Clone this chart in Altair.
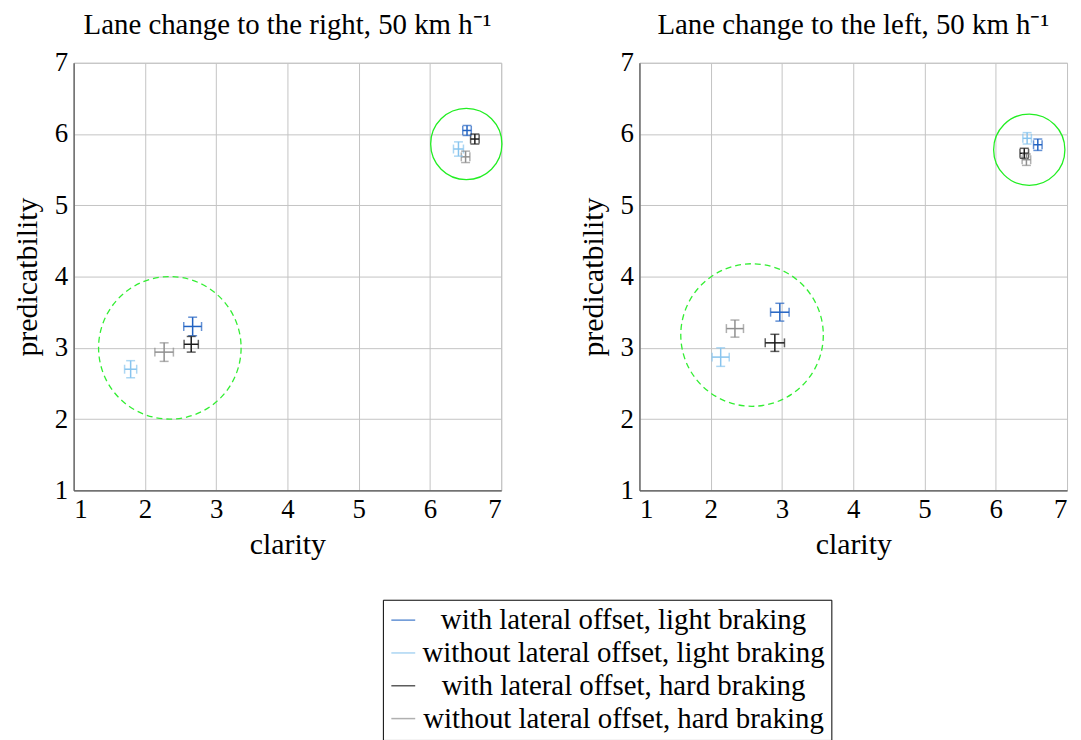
import altair as alt
import pandas as pd

FONT = "Liberation Serif"

series_names = [
    "with lateral offset, light braking",
    "without lateral offset, light braking",
    "with lateral offset, hard braking",
    "without lateral offset, hard braking",
]
series_colors = ["#2263c2", "#88c4ee", "#1a1a1a", "#8f8f8f"]

panel_titles = ["Lane change to the right, 50 km h⁻¹", "Lane change to the left, 50 km h⁻¹"]

# each panel: two points per series (lower cluster, upper cluster)
pt_series = [0, 0, 1, 1, 2, 2, 3, 3]

right_x = [2.67, 6.52, 1.80, 6.40, 2.65, 6.63, 2.27, 6.50]
right_y = [3.30, 6.05, 2.70, 5.79, 3.05, 5.93, 2.94, 5.68]
right_xerr = [0.125, 0.06, 0.085, 0.07, 0.10, 0.06, 0.13, 0.06]
right_yerr = [0.13, 0.07, 0.12, 0.10, 0.11, 0.07, 0.13, 0.08]

left_x = [2.97, 6.59, 2.14, 6.44, 2.90, 6.40, 2.34, 6.43]
left_y = [3.50, 5.85, 2.87, 5.94, 3.07, 5.73, 3.27, 5.64]
left_xerr = [0.13, 0.06, 0.12, 0.06, 0.135, 0.06, 0.12, 0.06]
left_yerr = [0.125, 0.08, 0.13, 0.08, 0.12, 0.07, 0.12, 0.08]

# circles: (x, y, radius) dashed = lower cluster, solid = upper cluster
right_circle_dashed = [2.35, 3.00, 1.0]
right_circle_solid = [6.51, 5.86, 0.5]
left_circle_dashed = [2.58, 3.18, 1.0]
left_circle_solid = [6.47, 5.78, 0.5]

axis_ticks = [1, 2, 3, 4, 5, 6, 7]

PLOT = 430
PPU = PLOT / (axis_ticks[-1] - axis_ticks[0])


def make_panel(title, xs, ys, xe, ye, c_dash, c_solid):
    df = pd.DataFrame({
        "series": [series_names[i] for i in pt_series],
        "x": xs, "y": ys,
        "xlo": [a - b for a, b in zip(xs, xe)],
        "xhi": [a + b for a, b in zip(xs, xe)],
        "ylo": [a - b for a, b in zip(ys, ye)],
        "yhi": [a + b for a, b in zip(ys, ye)],
    })
    xscale = alt.Scale(domain=[axis_ticks[0], axis_ticks[-1]], nice=False, zero=False)
    yscale = alt.Scale(domain=[axis_ticks[0], axis_ticks[-1]], nice=False, zero=False)
    xaxis = alt.Axis(values=axis_ticks, title="clarity", format="d")
    yaxis = alt.Axis(values=axis_ticks, title="predicatbility", format="d")
    color = alt.Color("series:N", scale=alt.Scale(domain=series_names, range=series_colors),
                      legend=alt.Legend(orient="none", legendX=311, legendY=540, title=None))

    base = alt.Chart(df)
    xbar = base.mark_errorbar(ticks=alt.MarkConfig(size=9), thickness=1.5).encode(
        x=alt.X("xlo:Q", scale=xscale, axis=xaxis),
        x2="xhi:Q",
        y=alt.Y("y:Q", scale=yscale, axis=yaxis),
        color=color,
    )
    ybar = base.mark_errorbar(ticks=alt.MarkConfig(size=9), thickness=1.5).encode(
        y=alt.Y("ylo:Q", scale=yscale, axis=yaxis),
        y2="yhi:Q",
        x=alt.X("x:Q", scale=xscale, axis=xaxis),
        color=color,
    )
    cd = pd.DataFrame({"x": [c_dash[0]], "y": [c_dash[1]], "r": [c_dash[2]]})
    cs = pd.DataFrame({"x": [c_solid[0]], "y": [c_solid[1]], "r": [c_solid[2]]})
    circ_d = alt.Chart(cd).mark_point(shape="circle", filled=False, color="#33ee33",
                                      strokeWidth=1.3, strokeDash=[6, 4], opacity=1).encode(
        x=alt.X("x:Q", scale=xscale, axis=xaxis),
        y=alt.Y("y:Q", scale=yscale, axis=yaxis),
        size=alt.value((2 * c_dash[2] * PPU) ** 2),
    )
    circ_s = alt.Chart(cs).mark_point(shape="circle", filled=False, color="#22ee22",
                                      strokeWidth=1.3, opacity=1).encode(
        x=alt.X("x:Q", scale=xscale, axis=xaxis),
        y=alt.Y("y:Q", scale=yscale, axis=yaxis),
        size=alt.value((2 * c_solid[2] * PPU) ** 2),
    )
    return alt.layer(circ_d, circ_s, xbar, ybar).properties(
        width=PLOT, height=PLOT, title=title)


p1 = make_panel(panel_titles[0], right_x, right_y, right_xerr, right_yerr,
                right_circle_dashed, right_circle_solid)
p2 = make_panel(panel_titles[1], left_x, left_y, left_xerr, left_yerr,
                left_circle_dashed, left_circle_solid)

chart = alt.hconcat(p1, p2, spacing=73).properties(
    padding={"left": 4, "top": 0, "right": 5, "bottom": 5}
).configure_view(
    stroke="#c4c4c4", strokeWidth=1
).configure_axis(
    labelFont=FONT, labelFontSize=27, labelColor="black",
    titleFont=FONT, titleFontSize=30, titleFontWeight="normal", titleColor="black",
    grid=True, gridColor="#c4c4c4", gridWidth=1,
    domainColor="#555555", domainWidth=1.2, ticks=False,
    labelPadding=6,
).configure_axisX(
    titlePadding=7,
).configure_axisY(
    titlePadding=12,
).configure_title(
    font=FONT, fontSize=29, fontWeight="normal", color="black", offset=9,
).configure_legend(
    labelFont=FONT, labelFontSize=29, labelColor="black", labelLimit=600,
    symbolType="stroke", symbolSize=576, symbolStrokeWidth=1.5,
    strokeColor="black", padding=6, rowPadding=3,
    labelAlign="center", labelOffset=207,
)

chart.save("out.html", embed_options={"renderer": "svg", "actions": False})
